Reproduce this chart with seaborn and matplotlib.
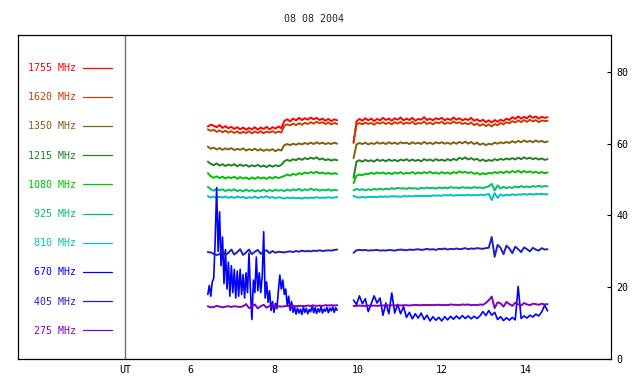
import numpy as np
import matplotlib
matplotlib.use("Agg")
import matplotlib.pyplot as plt
import seaborn as sns

sns.set_style("white")
plt.rcParams['font.family'] = ['DejaVu Sans Mono', 'DejaVu Sans']

title = "08 08 2004"
labels = ["1755 MHz", "1620 MHz", "1350 MHz", "1215 MHz", "1080 MHz",
          "925 MHz", "810 MHz", "670 MHz", "405 MHz", "275 MHz"]
colors = ["#ff0000", "#c04000", "#806010", "#208020", "#00c000",
          "#00c060", "#00c0c0", "#0000ff", "#2020c0", "#8000c0"]
xtick_vals = [4.45, 6, 8, 10, 12, 14]
xtick_labels = ["UT", "6", "8", "10", "12", "14"]
ytick_vals = [0, 20, 40, 60, 80]

# sample times (UT hours)
seg1_start, seg2_start, step = 6.42, 9.89, 0.07
fine_step = 0.035

# ---- segment 1 (6.42 - 9.50 UT) ----
s1_1755 = [64.8, 65.3, 65.0, 64.6, 65.2, 64.4, 64.9, 64.3, 64.7, 64.1,
           64.6, 64.0, 64.5, 63.9, 64.4, 64.0, 64.6, 63.9, 64.5, 64.1,
           64.7, 64.0, 64.6, 64.2, 64.8, 64.3,
           66.3, 66.8, 66.2, 67.0, 66.5, 67.2, 66.6, 67.1, 66.7, 67.3,
           66.8, 67.2, 66.6, 67.0, 66.4, 66.9, 66.3, 66.8, 66.5]
s1_1620 = [64.0, 63.6, 63.9, 63.3, 63.7, 63.2, 63.6, 63.1, 63.5, 63.0,
           63.4, 62.9, 63.3, 63.0, 63.5, 62.9, 63.4, 63.0, 63.5, 62.9,
           63.4, 63.1, 63.5, 63.0, 63.4, 63.1,
           65.0, 65.4, 65.1, 65.6, 65.2, 65.7, 65.3, 65.8, 65.5, 66.0,
           65.6, 66.1, 65.7, 66.0, 65.5, 65.9, 65.4, 65.8, 65.5]
s1_1350 = [59.2, 58.6, 58.9, 58.4, 58.8, 58.3, 58.7, 58.4, 58.8, 58.2,
           58.6, 58.3, 58.7, 58.1, 58.5, 58.2, 58.6, 58.1, 58.5, 58.0,
           58.4, 58.1, 58.5, 57.9, 58.4, 58.1,
           59.6, 59.9, 59.6, 60.0, 59.7, 60.1, 59.8, 60.2, 59.9, 60.3,
           59.9, 60.4, 60.0, 60.3, 59.9, 60.2, 59.9, 60.3, 60.0]
s1_1215 = [55.0, 54.4, 54.0, 54.5, 53.9, 54.3, 53.8, 54.2, 53.9, 54.3,
           53.7, 54.2, 53.8, 54.1, 53.6, 54.0, 53.7, 54.1, 53.6, 53.9,
           53.5, 54.0, 53.6, 54.0, 53.7, 54.1,
           55.1, 55.5, 55.2, 55.7, 55.4, 55.9, 55.5, 56.0, 55.7, 56.1,
           55.8, 56.2, 55.6, 55.9, 55.4, 55.7, 55.3, 55.6, 55.4]
s1_1080 = [51.8, 50.9, 50.5, 50.9, 50.4, 50.8, 50.3, 50.7, 50.4, 50.8,
           50.2, 50.7, 50.3, 50.6, 50.1, 50.6, 50.2, 50.7, 50.3, 50.6,
           50.2, 50.7, 50.3, 50.8, 50.4, 50.7,
           51.0, 51.4, 51.1, 51.6, 51.3, 51.8, 51.5, 52.0, 51.7, 52.1,
           51.8, 52.2, 51.7, 52.0, 51.6, 51.9, 51.5, 51.8, 51.6]
s1_925 = [48.0, 47.3, 46.9, 47.4, 47.0, 47.3, 46.8, 47.2, 46.9, 47.3,
          46.8, 47.1, 46.7, 47.2, 46.8, 47.1, 46.7, 47.0, 46.8, 47.2,
          46.7, 47.1, 46.8, 47.2, 46.9, 47.1, 46.8, 47.2, 46.9, 47.3,
          47.0, 47.4, 46.9, 47.3, 47.0, 47.5, 47.1, 47.3, 46.9, 47.2,
          47.0, 47.3, 46.9, 47.2, 47.0]
s1_810 = [45.4, 45.0, 45.3, 44.9, 45.2, 45.0, 45.3, 44.9, 45.2, 44.9,
          45.3, 45.0, 45.2, 44.8, 45.1, 44.9, 45.3, 44.8, 45.2, 45.0,
          45.4, 44.9, 45.2, 44.8, 45.1, 44.9, 44.7, 45.0, 44.8, 45.0,
          44.8, 44.9, 44.7, 45.0, 44.8, 45.0, 44.9, 45.1, 44.9, 45.0,
          44.9, 45.1, 44.9, 45.0, 45.1]
s1_670 = [18.0, 20.5, 17.5, 21.5, 22.5, 33.0, 47.8, 30.0, 41.0, 26.0,
          34.0, 21.0, 30.5, 19.5, 27.0, 17.5, 26.0, 18.5, 25.0, 17.0,
          24.5, 17.5, 25.0, 18.0, 23.5, 17.0, 24.0, 18.5, 29.5, 19.0,
          11.0, 22.0, 18.5, 28.4, 19.0, 24.0, 18.5, 23.0, 35.5, 17.0,
          21.5, 15.8, 19.0, 13.5, 16.0, 13.0, 15.5, 14.0, 19.0, 23.4,
          19.5, 22.0, 18.0, 19.5, 15.0, 17.5, 13.5, 16.0, 13.0, 14.5,
          12.5,
          14.2, 12.8, 13.9, 12.4, 14.5, 13.0, 14.1, 12.6, 13.8, 13.2,
          15.0, 12.9, 14.3, 12.7, 14.0, 13.1, 14.6, 12.8, 13.9, 13.3,
          14.4, 12.9, 14.2, 13.4, 14.5, 13.0, 14.3, 13.6]
s1_405 = [29.8, 29.7, 29.3, 29.0, 29.2, 30.3, 29.0, 29.6, 30.5, 29.1,
          29.8, 30.6, 29.0, 29.7, 30.5, 29.2, 29.9, 30.4, 29.3, 30.0,
          30.3, 29.5, 30.1, 29.6, 29.9, 29.8, 29.7, 29.9, 30.0, 29.8,
          30.1, 29.9, 30.2, 30.0, 30.1, 30.0, 30.2, 30.1, 30.3, 30.1,
          30.2, 30.3, 30.2, 30.4, 30.5]
s1_275 = [14.7, 14.4, 14.5, 14.8, 14.6, 14.4, 14.6, 14.7, 14.5, 14.7,
          14.6, 14.5, 14.7, 15.3, 14.2, 14.6, 15.2, 14.1, 14.7, 15.1,
          14.3, 14.8, 14.9, 14.4, 14.7, 14.6, 14.7, 14.8, 14.7, 14.8,
          14.7, 14.8, 14.8, 14.7, 14.9, 14.8, 14.9, 14.8, 14.9, 14.8,
          15.0, 14.9, 15.0, 14.9, 15.0]

# ---- segment 2 (9.89 - 14.51 UT) ----
s2_1755 = [60.2, 66.2, 66.9, 66.4, 67.1, 66.5, 67.0, 66.3, 66.9, 66.5,
           67.2, 66.6, 67.0, 66.4, 67.1, 66.7, 67.3, 66.5, 67.0, 66.6,
           67.2, 66.4, 66.9, 66.7, 67.4, 66.6, 67.0, 66.5, 67.1, 66.8,
           67.2, 66.5, 67.0, 66.6, 67.3, 66.7, 67.1, 66.5, 66.9, 66.6,
           67.2, 66.4, 66.8, 66.2, 66.7, 66.0, 66.5, 65.9, 66.6, 66.1,
           66.7, 66.3, 67.0, 66.6, 67.4, 66.9, 67.6, 67.0, 67.5, 67.1,
           67.8, 67.2, 67.6, 67.0, 67.5, 67.2, 67.4]
s2_1620 = [60.5, 65.3, 65.8, 65.4, 65.9, 65.5, 65.8, 65.3, 65.9, 65.6,
           66.0, 65.5, 65.9, 65.4, 66.0, 65.6, 66.1, 65.5, 65.9, 65.6,
           66.1, 65.4, 65.8, 65.6, 66.2, 65.5, 65.9, 65.4, 66.0, 65.7,
           66.1, 65.5, 65.9, 65.6, 66.2, 65.7, 66.0, 65.5, 65.8, 65.4,
           65.9, 65.2, 65.6, 65.0, 65.5, 64.9, 65.4, 64.8, 65.5, 65.1,
           65.8, 65.4, 66.0, 65.7, 66.3, 65.9, 66.5, 66.0, 66.6, 66.1,
           66.7, 66.2, 66.6, 66.0, 66.5, 66.3, 66.4]
s2_1350 = [56.0, 59.8, 60.2, 59.9, 60.3, 59.8, 60.2, 59.9, 60.4, 60.0,
           60.3, 59.9, 60.4, 60.0, 60.3, 59.9, 60.4, 60.1, 60.3, 59.9,
           60.4, 60.0, 60.3, 59.9, 60.5, 60.0, 60.3, 59.9, 60.4, 60.1,
           60.4, 60.0, 60.3, 59.9, 60.4, 60.0, 60.5, 60.1, 60.6, 60.0,
           60.5, 59.9, 60.3, 59.7, 60.1, 59.6, 60.0, 59.8, 60.3, 60.0,
           60.4, 60.1, 60.5, 60.2, 60.7, 60.3, 60.8, 60.4, 60.9, 60.5,
           60.8, 60.4, 60.9, 60.5, 60.8, 60.4, 60.6]
s2_1215 = [50.5, 55.0, 55.4, 55.0, 55.5, 55.1, 55.4, 55.0, 55.6, 55.2,
           55.5, 55.1, 55.6, 55.2, 55.5, 55.1, 55.6, 55.3, 55.7, 55.2,
           55.6, 55.2, 55.5, 55.1, 55.7, 55.3, 55.6, 55.2, 55.7, 55.3,
           55.6, 55.2, 55.7, 55.3, 55.8, 55.4, 56.1, 55.7, 56.2, 55.6,
           56.0, 55.5, 55.8, 55.2, 55.6, 55.1, 55.5, 55.2, 55.7, 55.4,
           55.8, 55.5, 55.9, 55.6, 56.0, 55.6, 56.1, 55.7, 56.2, 55.8,
           56.1, 55.7, 56.0, 55.6, 55.9, 55.5, 55.7]
s2_1080 = [49.0, 51.1, 51.4, 51.2, 51.6, 51.5, 51.9, 51.6, 52.0, 51.7,
           52.0, 51.6, 51.9, 51.5, 52.0, 51.7, 52.1, 51.6, 51.9, 51.7,
           52.1, 51.6, 52.0, 51.7, 52.1, 51.8, 52.2, 51.7, 52.0, 51.6,
           52.1, 51.7, 52.0, 51.6, 52.1, 51.8, 52.3, 51.9, 52.2, 51.8,
           52.1, 51.6, 51.9, 51.4, 51.8, 51.5, 51.9, 51.7, 52.1, 51.8,
           52.2, 51.8, 52.3, 51.9, 52.4, 52.0, 52.5, 51.9, 52.4, 52.0,
           52.3, 51.9, 52.2, 51.8, 52.1, 51.8, 52.0]
s2_925 = [47.0, 47.4, 47.1, 47.3, 47.0, 47.3, 47.1, 47.4, 47.2, 47.5,
          47.2, 47.5, 47.3, 47.6, 47.4, 47.7, 47.5, 47.6, 47.4, 47.7,
          47.5, 47.6, 47.4, 47.7, 47.5, 47.8, 47.6, 47.7, 47.5, 47.8,
          47.6, 47.8, 47.6, 47.9, 47.7, 47.8, 47.6, 47.9, 47.7, 47.8,
          47.6, 47.9, 47.7, 47.8, 47.6, 47.9, 48.1, 48.8, 47.0, 48.4,
          47.5, 48.0, 47.6, 47.9, 47.7, 48.1, 47.8, 48.2, 47.9, 48.1,
          47.9, 48.2, 48.0, 48.3, 48.0, 48.2, 48.1]
s2_810 = [45.5, 45.1, 45.0, 45.2, 45.0, 45.2, 45.1, 45.2, 45.1, 45.3,
          45.2, 45.3, 45.2, 45.4, 45.3, 45.3, 45.2, 45.4, 45.3, 45.4,
          45.3, 45.5, 45.4, 45.5, 45.4, 45.5, 45.4, 45.6, 45.5, 45.6,
          45.5, 45.7, 45.6, 45.7, 45.5, 45.7, 45.6, 45.7, 45.6, 45.8,
          45.6, 45.7, 45.6, 45.8, 45.7, 45.8, 46.0, 44.3, 46.2, 44.9,
          45.9, 45.5, 45.8, 45.6, 45.9, 45.7, 45.9, 45.8, 46.0, 45.8,
          46.0, 45.8, 46.0, 45.9, 46.0, 45.9, 45.9]
s2_670 = [16.4, 15.2, 17.6, 15.4, 16.8, 13.2, 15.4, 17.6, 15.6, 17.0,
          12.2, 15.6, 12.6, 18.4, 12.8, 15.2, 12.6, 14.6, 11.6, 13.0,
          11.2, 12.6, 11.4, 12.8, 11.0, 12.2, 10.6, 11.8, 10.8, 11.6,
          10.6, 11.8, 10.9, 11.9, 11.1, 12.0, 11.2, 12.1, 11.3, 12.0,
          11.2, 11.9, 11.3, 12.0, 13.2, 12.1, 13.5, 12.2, 13.0, 11.0,
          11.8, 10.7, 11.5, 10.8, 11.6, 10.9, 20.2, 11.3, 12.0, 11.4,
          12.2, 11.7, 12.5, 12.0, 13.1, 15.0, 13.4]
s2_405 = [29.6, 30.3, 30.4, 30.3, 30.4, 30.2, 30.3, 30.3, 30.4, 30.2,
          30.3, 30.2, 30.4, 30.3, 30.2, 30.4, 30.5, 30.4, 30.3, 30.5,
          30.4, 30.5, 30.6, 30.4, 30.5, 30.7, 30.5, 30.6, 30.4, 30.7,
          30.6, 30.8, 30.5, 30.7, 30.6, 30.8, 30.6, 30.7, 30.9, 30.6,
          30.8, 30.7, 30.9, 30.8, 30.7, 30.9, 31.0, 34.0,
          28.5, 31.8, 31.0, 29.2, 31.6, 30.8, 29.5, 31.3, 30.6, 29.8,
          31.1, 30.6, 30.0, 31.0, 30.5, 30.2, 30.9, 30.5, 30.6]
s2_275 = [14.8, 14.8, 14.9, 14.8, 14.8, 14.9, 14.8, 14.9, 14.8, 14.9,
          14.9, 15.0, 14.9, 15.0, 14.9, 15.0, 14.9, 15.0, 15.0, 14.9,
          15.0, 15.1, 15.0, 15.0, 15.1, 15.0, 15.1, 15.0, 15.1, 15.1,
          15.0, 15.1, 15.0, 15.2, 15.1, 15.1, 15.0, 15.2, 15.1, 15.2,
          15.0, 15.1, 15.0, 15.2, 15.1, 15.6, 16.4, 17.4,
          14.2, 15.8, 15.5, 14.6, 15.9, 15.3, 14.8, 15.7, 15.2, 14.9,
          15.6, 15.2, 15.0, 15.4, 15.3, 15.1, 15.4, 15.2, 15.3]

seg1 = [s1_1755, s1_1620, s1_1350, s1_1215, s1_1080, s1_925, s1_810, s1_670, s1_405, s1_275]
seg2 = [s2_1755, s2_1620, s2_1350, s2_1215, s2_1080, s2_925, s2_810, s2_670, s2_405, s2_275]

fig = plt.figure(figsize=(6.4, 3.84), dpi=100)
ax = fig.add_axes([18 / 640, 25 / 384, 593 / 640, 324 / 384])

handles = []
for lab, col, v1, v2 in zip(labels, colors, seg1, seg2):
    st = fine_step if lab == "670 MHz" else step
    lw = 1.2 if lab == "670 MHz" else 1.4
    t1 = seg1_start + st * np.arange(len(v1))
    t2 = seg2_start + step * np.arange(len(v2))
    sns.lineplot(x=t1, y=v1, color=col, linewidth=lw, ax=ax,
                 estimator=None, sort=False, legend=False)
    handles.append(ax.lines[-1])
    sns.lineplot(x=t2, y=v2, color=col, linewidth=lw, ax=ax,
                 estimator=None, sort=False, legend=False)

ax.axvline(xtick_vals[0], color="#707070", linewidth=1.0, zorder=0)

ax.set_xlim(1.9, 16.02)
ax.set_ylim(0, 90.3)
ax.set_xticks(xtick_vals)
ax.set_xticklabels(xtick_labels)
ax.yaxis.tick_right()
ax.set_yticks(ytick_vals)
ax.set_yticklabels([str(v) for v in ytick_vals])
ax.tick_params(axis="both", direction="in", length=3, width=0.8,
               color="black", labelsize=7.2, pad=4, labelcolor="black")
ax.set_xlabel("")
ax.set_ylabel("")
for sp in ax.spines.values():
    sp.set_visible(True)
    sp.set_color("black")
    sp.set_linewidth(0.9)

ax.set_title(title, fontsize=7.2, pad=9)

leg = ax.legend(handles, labels, loc="upper right",
                bbox_to_anchor=(112 / 640, 1 - 63 / 384),
                bbox_transform=fig.transFigure,
                markerfirst=False, frameon=False, handlelength=2.9,
                handletextpad=0.7, labelspacing=1.92, borderpad=0,
                borderaxespad=0, fontsize=7.2, labelcolor="linecolor")
for ln in leg.get_lines():
    ln.set_linewidth(0.9)

fig.savefig("out.png", dpi=100)
